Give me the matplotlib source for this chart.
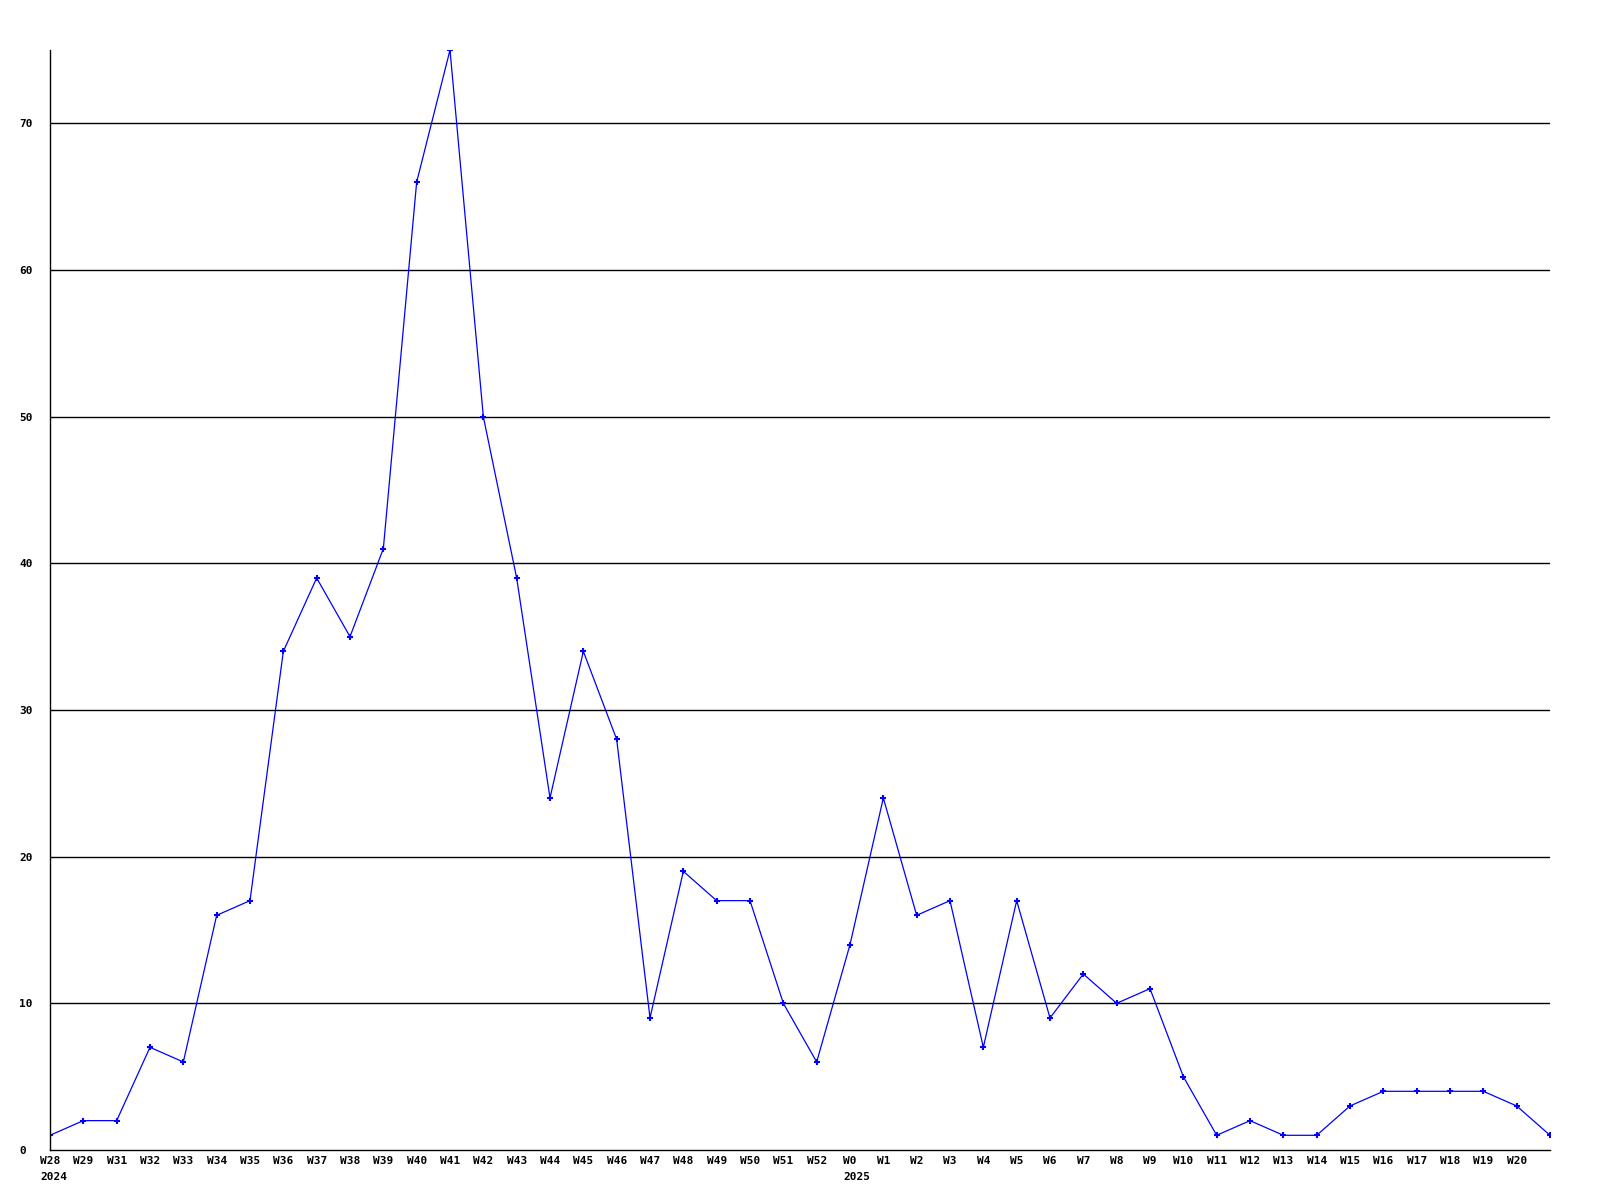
import matplotlib
matplotlib.use('Agg')
import matplotlib.pyplot as plt

# weekly counts, W28 2024 .. W21 2025 (last point has no label)
weeks = ['W28', 'W29', 'W31', 'W32', 'W33', 'W34', 'W35', 'W36', 'W37', 'W38',
         'W39', 'W40', 'W41', 'W42', 'W43', 'W44', 'W45', 'W46', 'W47', 'W48',
         'W49', 'W50', 'W51', 'W52', 'W0', 'W1', 'W2', 'W3', 'W4', 'W5',
         'W6', 'W7', 'W8', 'W9', 'W10', 'W11', 'W12', 'W13', 'W14', 'W15',
         'W16', 'W17', 'W18', 'W19', 'W20', '']
counts = [1, 2, 2, 7, 6, 16, 17, 34, 39, 35,
          41, 66, 75, 50, 39, 24, 34, 28, 9, 19,
          17, 17, 10, 6, 14, 24, 16, 17, 7, 17,
          9, 12, 10, 11, 5, 1, 2, 1, 1, 3,
          4, 4, 4, 4, 3, 1]
years = {0: '2024', 24: '2025'}   # year shown under first week of each year
yticks = [0, 10, 20, 30, 40, 50, 60, 70]

mono = dict(family='DejaVu Sans Mono', fontweight='bold', fontsize=8)

fig = plt.figure(figsize=(16, 12), dpi=100)
ax = fig.add_axes([0.03125, 0.0417, 0.9375, 0.9166])

x = list(range(len(counts)))
ax.plot(x, counts, color='#0000ff', lw=0.9, marker='+', ms=4, mew=1.5)

ax.set_xlim(0, len(counts) - 1)
ax.set_ylim(0, 75)
ax.set_yticks(yticks)
ax.set_yticklabels([str(v) for v in yticks], ha='left')
ax.set_xticks(x)
ax.set_xticklabels(weeks)
for v in yticks[1:]:
    ax.axhline(v, color='black', lw=1, zorder=0)

# year under the week label, left aligned with it
for i, yr in years.items():
    half = len(weeks[i]) * 0.602 * 8 / 2
    ax.annotate(yr, xy=(i, 0), xycoords=('data', 'axes fraction'),
                xytext=(-half, -19.5), textcoords='offset points',
                ha='left', va='center', annotation_clip=False, **mono)

for s in ['top', 'right']:
    ax.spines[s].set_visible(False)
for s in ['left', 'bottom']:
    ax.spines[s].set_linewidth(1)
ax.tick_params(axis='both', length=0)
ax.tick_params(axis='y', pad=22)
ax.tick_params(axis='x', pad=4)
for lab in ax.get_xticklabels() + ax.get_yticklabels():
    lab.set_family(mono['family'])
    lab.set_fontweight('bold')
    lab.set_fontsize(8)

fig.savefig('out.png', dpi=100)
